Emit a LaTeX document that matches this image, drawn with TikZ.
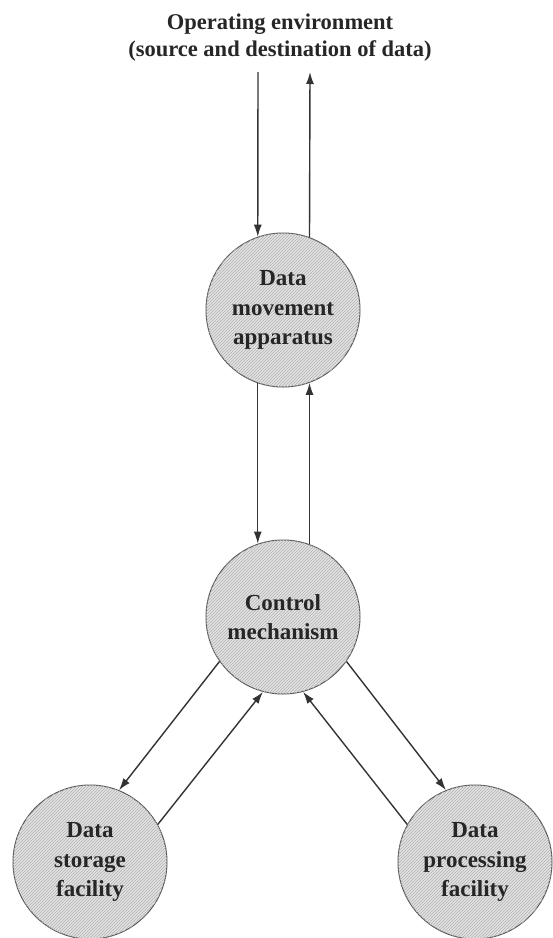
\documentclass[tikz,border=0pt]{standalone}
\usepackage{fontspec}
\setmainfont{Liberation Serif}
\usetikzlibrary{patterns,arrows.meta}
\tikzset{
  bubble/.style={circle, draw=black!65, line width=1pt, fill=black!11,
    postaction={pattern=north east lines, pattern color=black!30},
    minimum size=154pt, inner sep=0pt, align=center, text=black!85,
    font=\fontsize{23}{29.5}\selectfont\bfseries},
  arr/.style={draw=black!80, line width=1.4pt, -{Latex[length=12pt,width=8pt]}},
  title/.style={align=center, text=black!85, font=\fontsize{22.5}{27}\selectfont\bfseries}
}
\begin{document}
\begin{tikzpicture}[x=1pt,y=-1pt]
\useasboundingbox (0,0) rectangle (553,938);
\node[title] (env) at (280,38) {Operating environment\\(source and destination of data)};
\coordinate (envin) at (258,72);
\coordinate (envout) at (310,72);
\node[bubble] (dm) at (283,310) {Data\\movement\\apparatus};
\node[bubble] (ctrl) at (283,617) {Control\\mechanism};
\node[bubble] (st) at (90,862) {Data\\storage\\facility};
\node[bubble] (pr) at (475,862) {Data\\processing\\facility};
\draw[arr] (envin) -- (dm.109);
\draw[arr] (dm.70) -- (envout);
\draw[arr] (dm.251) -- (ctrl.109);
\draw[arr] (ctrl.70) -- (dm.290);
\draw[arr] (ctrl.215) -- (st.68);
\draw[arr] (st.29) -- (ctrl.255);
\draw[arr] (ctrl.325) -- (pr.112);
\draw[arr] (pr.151) -- (ctrl.285);
\end{tikzpicture}
\end{document}
